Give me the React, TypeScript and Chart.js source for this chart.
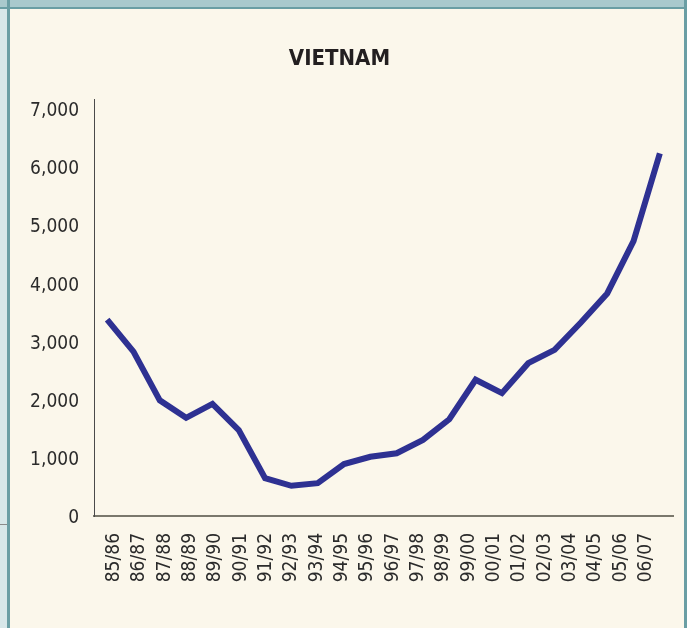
import React, { useEffect, useRef } from "react";
import { Chart, registerables } from "chart.js";

Chart.register(...registerables);

const seasons = [
  "85/86", "86/87", "87/88", "88/89", "89/90", "90/91", "91/92", "92/93",
  "93/94", "94/95", "95/96", "96/97", "97/98", "98/99", "99/00", "00/01",
  "01/02", "02/03", "03/04", "04/05", "05/06", "06/07",
];

const vietnamValues = [
  3380, 2830, 1990, 1690, 1930, 1480, 650, 520, 565, 895, 1020, 1080,
  1310, 1665, 2345, 2115, 2630, 2860, 3330, 3830, 4730, 6240,
];

const yTickValues = [0, 1000, 2000, 3000, 4000, 5000, 6000, 7000];

const titleText = "VIETNAM";

const FONT = "'Liberation Sans Narrow', 'DejaVu Sans Condensed', 'Arial Narrow', sans-serif";

export default function App() {
  const ref = useRef<HTMLCanvasElement | null>(null);

  useEffect(() => {
    if (!ref.current) return;
    const chart = new Chart(ref.current, {
      type: "line",
      data: {
        labels: seasons,
        datasets: [
          {
            label: titleText,
            data: vietnamValues,
            borderColor: "#2e3192",
            backgroundColor: "#2e3192",
            borderWidth: 6,
            pointRadius: 0,
            pointHoverRadius: 0,
            tension: 0,
            xAxisID: "x",
            yAxisID: "y",
          },
        ],
      },
      options: {
        responsive: false,
        animation: false,
        events: [],
        layout: { padding: { left: 6, right: 14, top: 0, bottom: 0 } },
        plugins: {
          legend: { display: false },
          tooltip: { enabled: false },
          title: {
            display: true,
            text: titleText,
            color: "#231f20",
            font: { family: FONT, size: 22, weight: "bold", lineHeight: 1.2 },
            padding: { top: 46, bottom: 27 },
          },
        },
        scales: {
          x: {
            type: "category",
            display: false,
            offset: true,
          },
          x2: {
            type: "linear",
            position: "bottom",
            min: -0.79,
            max: 22.07,
            afterBuildTicks: (scale: any) => {
              scale.ticks = seasons.map((_, i) => ({ value: i }));
            },
            afterFit: (scale: any) => {
              scale.height = 112;
            },
            grid: { display: false, drawTicks: false },
            border: { display: true, color: "#7a786c", width: 2 },
            ticks: {
              autoSkip: false,
              minRotation: 90,
              maxRotation: 90,
              padding: 17,
              color: "#2b2b2b",
              font: { family: FONT, size: 19 },
              callback: (v: any) => seasons[Math.round(Number(v))] ?? "",
            },
          },
          y: {
            type: "linear",
            min: 0,
            max: 7170,
            afterBuildTicks: (scale: any) => {
              scale.ticks = yTickValues.map((v) => ({ value: v }));
            },
            afterFit: (scale: any) => {
              scale.width = 88;
            },
            grid: { display: false, drawTicks: false },
            border: { display: true, color: "#4a4a4a", width: 1 },
            ticks: {
              padding: 15,
              labelOffset: 2,
              color: "#2b2b2b",
              font: { family: FONT, size: 19 },
              callback: (v: any) => Number(v).toLocaleString("en-US"),
            },
          },
        },
      },
    });
    return () => chart.destroy();
  }, []);

  const abs = (s: React.CSSProperties): React.CSSProperties => ({ position: "absolute", ...s });

  return (
    <div
      style={{
        position: "fixed",
        left: 0,
        top: 0,
        width: 687,
        height: 628,
        background: "#fbf7eb",
        overflow: "hidden",
      }}
    >
      <div style={abs({ left: 0, top: 0, width: 687, height: 7, background: "#a9c9cd" })} />
      <div style={abs({ left: 0, top: 7, width: 687, height: 2, background: "#6a9ea4" })} />
      <div style={abs({ left: 0, top: 9, width: 7, height: 619, background: "#d7e7e9" })} />
      <div style={abs({ left: 7, top: 0, width: 3, height: 628, background: "#6a9ea4" })} />
      <div style={abs({ left: 684, top: 0, width: 3, height: 628, background: "#6a9ea4" })} />
      <div style={abs({ left: 0, top: 524, width: 7, height: 1, background: "#8a8a8a" })} />
      <canvas
        ref={ref}
        width={687}
        height={628}
        style={{ position: "absolute", left: 0, top: 0, width: 687, height: 628 }}
      />
    </div>
  );
}
